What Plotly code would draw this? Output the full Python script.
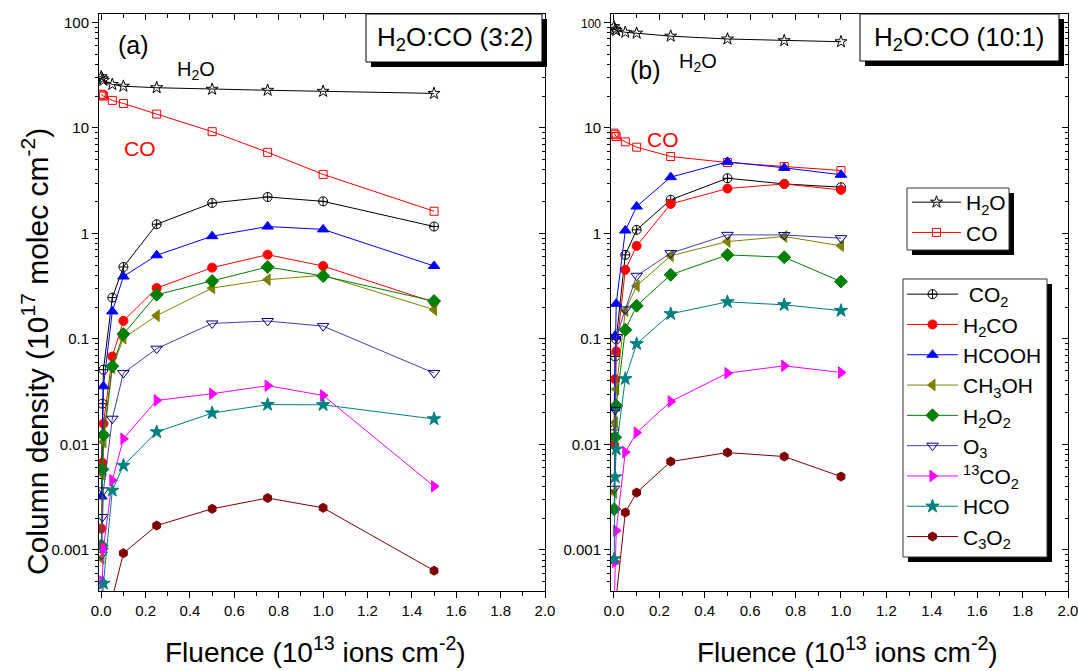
import plotly.graph_objects as go

W, H = 1078, 671
FONT = "Liberation Sans, Arial, sans-serif"

# ---------------- data: panel (a) H2O:CO (3:2) ----------------
fluence_a = [0, 0.001, 0.005, 0.01, 0.05, 0.1, 0.25, 0.5, 0.75, 1.0, 1.5]
a_H2O   = [30.5, None, 29.2, 28.2, 25.8, 24.8, 24.0, 23.2, 22.7, 22.2, 21.2]
a_CO    = [20.8, None, 20.4, 20.0, 18.2, 17.0, 13.5, 9.2, 5.86, 3.62, 1.62]
a_CO2   = [None, 0.0052, 0.0243, 0.051, 0.246, 0.48, 1.22, 1.94, 2.21, 2.01, 1.16]
a_H2CO  = [None, 0.00159, 0.0067, 0.0157, 0.068, 0.148, 0.303, 0.473, 0.628, 0.49, 0.222]
a_HCOOH = [None, 0.0032, 0.0125, 0.0355, 0.182, 0.39, 0.62, 0.94, 1.16, 1.09, 0.49]
a_CH3OH = [None, 0.00083, 0.0052, 0.0105, 0.053, 0.1015, 0.166, 0.303, 0.364, 0.40, 0.189]
a_H2O2  = [None, 0.0011, 0.0058, 0.0122, 0.055, 0.111, 0.262, 0.353, 0.48, 0.394, 0.228]
a_O3    = [None, 0.0009, 0.00205, 0.00366, 0.0175, 0.0474, 0.0807, 0.14, 0.1475, 0.132, 0.0474]
a_13CO2 = [None, 0.0003, 0.0005, 0.00103, 0.00456, 0.0113, 0.0261, 0.0302, 0.036, 0.0291, 0.0040]
a_HCO   = [None, 0.0002, 0.0003, 0.00048, 0.00366, 0.0063, 0.0131, 0.0198, 0.0238, 0.0237, 0.0174]
a_C3O2  = [None, None, None, None, 0.00035, 0.00093, 0.0017, 0.00245, 0.0031, 0.0025, 0.000635]

# ---------------- data: panel (b) H2O:CO (10:1) ----------------
fluence_b = [0, 0.001, 0.005, 0.01, 0.05, 0.1, 0.25, 0.5, 0.75, 1.0]
b_H2O   = [91, None, 86, 83.6, 80.5, 79, 74, 69.5, 67, 65.5]
b_CO    = [8.9, None, 8.6, 8.27, 7.37, 6.56, 5.35, 4.69, 4.30, 3.94]
b_CO2   = [None, 0.0137, 0.068, 0.099, 0.625, 1.08, 2.08, 3.33, 2.94, 2.74]
b_H2CO  = [None, 0.0099, 0.0415, 0.076, 0.451, 0.76, 1.9, 2.66, 2.94, 2.58]
b_HCOOH = [None, 0.022, 0.107, 0.215, 1.064, 1.795, 3.41, 4.76, 4.18, 3.59]
b_CH3OH = [None, 0.0035, 0.0161, 0.0333, 0.185, 0.318, 0.612, 0.836, 0.933, 0.762]
b_H2O2  = [None, 0.00243, 0.0117, 0.0232, 0.1217, 0.206, 0.405, 0.625, 0.594, 0.349]
b_O3    = [None, 0.0038, 0.0212, 0.104, 0.19, 0.396, 0.649, 0.968, 0.965, 0.90]
b_13CO2 = [None, 0.0003, 0.00077, 0.00152, 0.00843, 0.0129, 0.0255, 0.0473, 0.0555, 0.048]
b_HCO   = [None, 0.00082, 0.0049, 0.009, 0.0418, 0.0897, 0.1726, 0.224, 0.21, 0.185]
b_C3O2  = [None, None, None, 0.00035, 0.00226, 0.00349, 0.00687, 0.00836, 0.00766, 0.00495]

y_tickvals = [0.001, 0.01, 0.1, 1, 10, 100]
y_ticktext_a = ["0.001", "0.01", "0.1", "1", "10", "100"]
y_ticktext_b = ["0.001", "0.01", "0.1", "1", "10", "<span style='font-size:12px'>100</span>"]

# species styling: (name, color, symbol, size, legend)
species = [
    ("H<sub>2</sub>O", "black", "star-open", 9, "legend"),
    ("CO", "red", "square-open", 8, "legend"),
    (" CO<sub>2</sub>", "black", "circle-cross-open", 9, "legend2"),
    ("H<sub>2</sub>CO", "red", "circle", 9, "legend2"),
    ("HCOOH", "blue", "triangle-up", 10, "legend2"),
    ("CH<sub>3</sub>OH", "#808000", "triangle-left", 10, "legend2"),
    ("H<sub>2</sub>O<sub>2</sub>", "#008000", "diamond", 10, "legend2"),
    ("O<sub>3</sub>", "#000080", "triangle-down-open", 10, "legend2"),
    ("<sup>13</sup>CO<sub>2</sub>", "#FF00FF", "triangle-right", 10, "legend2"),
    ("HCO", "#008080", "star", 10, "legend2"),
    ("C<sub>3</sub>O<sub>2</sub>", "#800000", "hexagon", 9, "legend2"),
]
series_a = [a_H2O, a_CO, a_CO2, a_H2CO, a_HCOOH, a_CH3OH, a_H2O2, a_O3, a_13CO2, a_HCO, a_C3O2]
series_b = [b_H2O, b_CO, b_CO2, b_H2CO, b_HCOOH, b_CH3OH, b_H2O2, b_O3, b_13CO2, b_HCO, b_C3O2]

fig = go.Figure()

line_colors = {"#000080": "#4040b0"}

for (name, col, sym, sz, leg), ya, yb in zip(species, series_a, series_b):
    lc = line_colors.get(col, col)
    common = dict(mode="lines+markers", name=name, connectgaps=True,
                  line=dict(color=lc, width=1),
                  marker=dict(color=col, symbol=sym, size=sz,
                              line=dict(color=col, width=1)))
    fig.add_trace(go.Scatter(x=fluence_a, y=ya, xaxis="x", yaxis="y",
                             showlegend=False, **common))
    fig.add_trace(go.Scatter(x=fluence_b, y=yb, xaxis="x2", yaxis="y2",
                             showlegend=True, legend=leg, **common))

# dummy traces for mirrored (inside-tick) top/right axes
for xa, ya in [("x3", "y"), ("x", "y3"), ("x4", "y2"), ("x2", "y4")]:
    fig.add_trace(go.Scatter(x=[0.5], y=[1], xaxis=xa, yaxis=ya, mode="markers",
                             marker=dict(opacity=0), showlegend=False, hoverinfo="skip"))

minor_log = [k * 10.0 ** n for n in range(-4, 3) for k in range(2, 10)]

ydom = [1 - 591 / H, 1 - 14 / H]
xdom_a = [99 / W, 545 / W]
xdom_b = [611 / W, 1068 / W]
xr_a = [-0.01, 2.0]
xr_b = [-0.013, 2.0]
yr = [-3.39, 2.079]

tickfont = dict(family=FONT, size=15, color="black")

def xax(dom, rng, anchor):
    return dict(domain=dom, range=rng, anchor=anchor, showgrid=False, zeroline=False,
                automargin=False, ticklabeloverflow="allow",
                showline=True, linecolor="black", linewidth=1,
                ticks="outside", ticklen=6, tickwidth=1, tickcolor="black",
                tick0=0, dtick=0.2, tickformat=".1f", tickfont=tickfont,
                minor=dict(dtick=0.1, ticks="outside", ticklen=4, tickcolor="black"))

def yax(dom, anchor, ticktext):
    return dict(domain=dom, type="log", range=yr, anchor=anchor, showgrid=False,
                automargin=False, ticklabeloverflow="allow",
                zeroline=False, showline=True, linecolor="black", linewidth=1,
                ticks="outside", ticklen=6, tickwidth=1, tickcolor="black",
                tickvals=y_tickvals, ticktext=ticktext, tickfont=tickfont,
                minor=dict(tickvals=minor_log, ticks="outside", ticklen=3, tickcolor="black"))

def xtop(over, rng, anchor):
    return dict(overlaying=over, side="top", range=rng, anchor=anchor, showgrid=False,
                automargin=False,
                zeroline=False, showline=True, linecolor="black", linewidth=1,
                ticks="inside", ticklen=6, tickcolor="black", tick0=0, dtick=0.2,
                showticklabels=False,
                minor=dict(dtick=0.1, ticks="inside", ticklen=4, tickcolor="black"))

def yright(over, anchor):
    return dict(overlaying=over, side="right", type="log", range=yr, anchor=anchor,
                automargin=False,
                showgrid=False, zeroline=False, showline=True, linecolor="black",
                linewidth=1, ticks="inside", ticklen=6, tickcolor="black",
                tickvals=y_tickvals, showticklabels=False,
                minor=dict(tickvals=minor_log, ticks="inside", ticklen=3, tickcolor="black"))

def px(x):
    return x / W

def py(y):
    return 1 - y / H

shapes = []
def box(x0, y0, x1, y1, off=5, border="black"):
    shapes.append(dict(type="rect", xref="paper", yref="paper",
                       x0=px(x0 + off), x1=px(x1 + off), y0=py(y1 + off), y1=py(y0 + off),
                       fillcolor="black", line=dict(width=0), layer="above"))
    shapes.append(dict(type="rect", xref="paper", yref="paper",
                       x0=px(x0), x1=px(x1), y0=py(y1), y1=py(y0),
                       fillcolor="white", line=dict(color=border, width=1), layer="above"))

box(366, 14, 542, 62)
box(860, 14, 1059, 61)
box(907, 188, 1009, 250, border="#333333")
box(903, 279, 1047, 557, border="#333333")

annotations = []
def txt(x, y, s, size, color="black", angle=0):
    annotations.append(dict(xref="paper", yref="paper", x=px(x), y=py(y), text=s,
                            showarrow=False, xanchor="center", yanchor="middle",
                            textangle=angle,
                            font=dict(family=FONT, size=size, color=color)))

txt(455, 39, "H<sub>2</sub>O:CO (3:2)", 26)
txt(959, 38, "H<sub>2</sub>O:CO (10:1)", 26)
txt(133, 45, "(a)", 25)
txt(196, 71, "H<sub>2</sub>O", 20)
txt(140, 148, "CO", 21, "red")
txt(645, 70, "(b)", 25)
txt(698, 63, "H<sub>2</sub>O", 20)
txt(663, 139, "CO", 21, "red")
txt(315, 650, "Fluence (10<sup>13</sup> ions cm<sup>-2</sup>)", 28)
txt(847, 650, "Fluence (10<sup>13</sup> ions cm<sup>-2</sup>)", 28)
txt(35, 352, "Column density (10<sup>17</sup> molec cm<sup>-2</sup>)", 30, angle=-90)

legfont = dict(family=FONT, size=21, color="black")

fig.update_layout(
    width=W, height=H, margin=dict(l=0, r=0, t=0, b=0, autoexpand=False),
    paper_bgcolor="white", plot_bgcolor="white",
    font=dict(family=FONT, color="black"),
    xaxis=xax(xdom_a, xr_a, "y"), yaxis=yax(ydom, "x", y_ticktext_a),
    xaxis2=xax(xdom_b, xr_b, "y2"), yaxis2=yax(ydom, "x2", y_ticktext_b),
    xaxis3=xtop("x", xr_a, "y"), yaxis3=yright("y", "x"),
    xaxis4=xtop("x2", xr_b, "y2"), yaxis4=yright("y2", "x2"),
    shapes=shapes, annotations=annotations,
    legend=dict(x=px(907), y=py(182), xanchor="left", yanchor="top",
                bgcolor="rgba(0,0,0,0)", borderwidth=0, font=legfont,
                itemwidth=49, tracegroupgap=0),
    legend2=dict(x=px(902), y=py(274), xanchor="left", yanchor="top",
                 bgcolor="rgba(0,0,0,0)", borderwidth=0, font=legfont,
                 itemwidth=51, tracegroupgap=0),
)

fig.write_html("out.html", config={"displayModeBar": False},
               post_script="document.body.style.margin='0';document.body.style.overflow='hidden';")
